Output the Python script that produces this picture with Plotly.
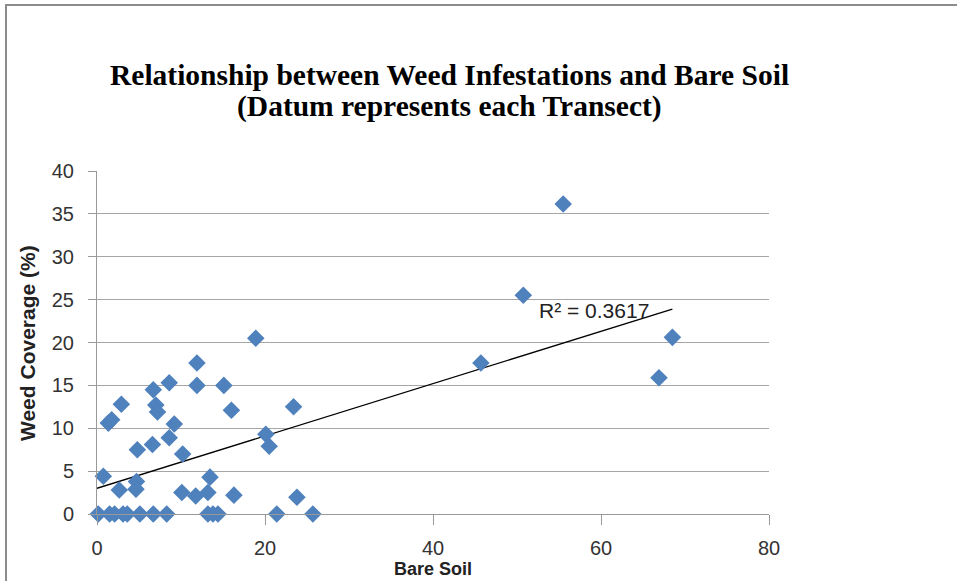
import plotly.graph_objects as go

# Bare soil (%) and weed coverage (%) per transect
bare_soil = [0.15, 1.5, 2.1, 3.1, 3.6, 5.1, 6.7, 8.3, 13.2, 13.8, 14.4, 21.4, 25.7,
             0.75, 1.35, 1.75, 2.9, 2.65, 4.8, 4.7, 4.64, 6.6, 6.7, 7.0, 7.2, 8.6,
             9.2, 8.6, 10.2, 11.9, 11.9, 10.1, 11.75, 13.2, 13.45, 15.1, 16.0, 16.3,
             20.1, 20.5, 18.9, 23.4, 23.8, 55.5, 50.75, 45.7, 68.5, 66.9]
weed_cover = [0, 0, 0, 0, 0, 0, 0, 0, 0, 0, 0, 0, 0,
              4.4, 10.6, 11.0, 12.8, 2.8, 7.5, 3.8, 2.9, 8.1, 14.5, 12.7, 11.9, 15.3,
              10.5, 8.9, 7.0, 17.6, 15.0, 2.5, 2.1, 2.5, 4.3, 15.0, 12.1, 2.2,
              9.3, 7.9, 20.5, 12.5, 1.95, 36.15, 25.5, 17.6, 20.6, 15.9]
# Linear trendline end points
trend_x = [0, 68.5]
trend_y = [3.0, 23.9]
r2_label = "R² = 0.3617"
x_ticks = [0, 20, 40, 60, 80]
y_ticks = [0, 5, 10, 15, 20, 25, 30, 35, 40]
title_lines = ["Relationship between Weed Infestations and Bare Soil",
               "(Datum represents each Transect)"]

W, H = 957, 581
L, R, T, B = 97, 188, 171, 67
PW, PH = W - L - R, H - T - B


def px(xs):
    return (xs - L) / PW


def py(ys):
    return (H - B - ys) / PH


fig = go.Figure()
fig.add_trace(go.Scatter(x=trend_x, y=trend_y, mode="lines",
                         line=dict(color="black", width=1.3), showlegend=False,
                         hoverinfo="skip"))
fig.add_trace(go.Scatter(x=bare_soil, y=weed_cover, mode="markers",
                         marker=dict(symbol="diamond", size=13.5, color="#4F81BD",
                                     line=dict(width=0)),
                         cliponaxis=False, showlegend=False))

fig.add_annotation(x=52.4, y=23.7, text=r2_label, showarrow=False, xanchor="left",
                   yanchor="middle",
                   font=dict(family="Liberation Sans", size=21, color="#222"))

# title lines
for txt, ys in zip(title_lines, [75, 107]):
    fig.add_annotation(xref="paper", yref="paper", x=px(449), y=py(ys), text="<b>" + txt + "</b>",
                       showarrow=False, xanchor="center", yanchor="middle",
                       font=dict(family="Liberation Serif", size=29.5, color="black"))

# axis titles
fig.add_annotation(xref="paper", yref="paper", x=px(433), y=py(569), text="<b>Bare Soil</b>",
                   showarrow=False, xanchor="center", yanchor="middle", borderpad=0,
                   font=dict(family="Liberation Sans", size=18, color="#222"))
fig.add_annotation(xref="paper", yref="paper", x=px(27), y=py(343), text="<b>Weed Coverage (%)</b>",
                   showarrow=False, xanchor="center", yanchor="middle", textangle=-90,
                   font=dict(family="Liberation Sans", size=21, color="#222"))

fig.update_layout(
    width=W, height=H,
    margin=dict(l=L, r=R, t=T, b=B),
    paper_bgcolor="white", plot_bgcolor="white",
    font=dict(family="Liberation Sans", size=20, color="#333"),
    xaxis=dict(range=[0, 80], tickvals=x_ticks, showgrid=False, zeroline=False,
               showline=True, linecolor="#999", linewidth=1, ticks="outside",
               ticklen=10, tickcolor="#999", ticklabelstandoff=6,
               tickfont=dict(size=20, color="#333")),
    yaxis=dict(range=[0, 40], tickvals=y_ticks, showgrid=True, gridcolor="#a6a6a6",
               gridwidth=1, zeroline=False, showline=True, linecolor="#999",
               linewidth=1, ticks="outside", ticklen=8, tickcolor="#999",
               ticklabelstandoff=10, tickfont=dict(size=20, color="#333")),
)
fig.add_shape(type="rect", xref="paper", yref="paper",
              x0=px(6), x1=px(1200), y0=py(900), y1=py(5),
              line=dict(color="#8c8c8c", width=2), fillcolor="rgba(0,0,0,0)", layer="below")
fig.write_html("out.html", config={"displayModeBar": False},
               post_script="document.body.style.margin='0';")
